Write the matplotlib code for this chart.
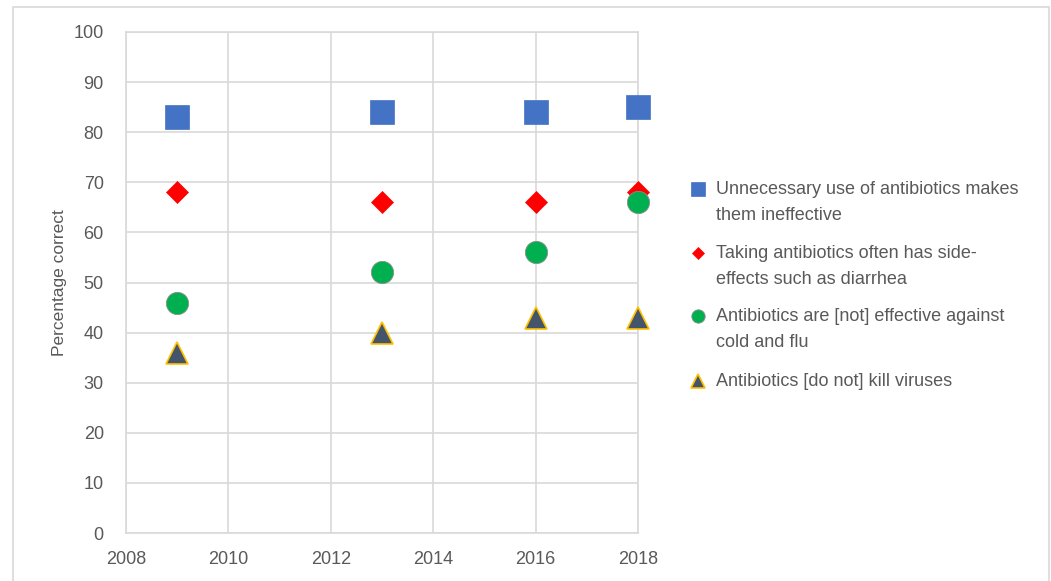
import matplotlib.pyplot as plt
from matplotlib.lines import Line2D
from matplotlib.patches import Rectangle

years = [2009, 2013, 2016, 2018]
unnecessary_use = [83, 84, 84, 85]
side_effects = [68, 66, 66, 68]
cold_and_flu = [46, 52, 56, 66]
kill_viruses = [36, 40, 43, 43]

labels = [
    'Unnecessary use of antibiotics makes\nthem ineffective',
    'Taking antibiotics often has side-\neffects such as diarrhea',
    'Antibiotics are [not] effective against\ncold and flu',
    'Antibiotics [do not] kill viruses',
]

plt.rcParams['font.family'] = ['Liberation Sans', 'DejaVu Sans']
grey_text = '#595959'
grid_col = '#D9D9D9'

fig = plt.figure(figsize=(10.51, 5.81), dpi=100)
ax = fig.add_axes([126 / 1051, 1 - 533 / 581, 512 / 1051, 501 / 581])

styles = [
    dict(marker='s', ms=17, mfc='#4472C4', mec='#4472C4', mew=0.5),
    dict(marker='D', ms=11, mfc='#FF0000', mec='#FF0000', mew=0.5),
    dict(marker='o', ms=16, mfc='#00B050', mec='#8c8c8c', mew=0.6),
    dict(marker='^', ms=16, mfc='#44546A', mec='#FFC000', mew=1.2),
]
series = [unnecessary_use, side_effects, cold_and_flu, kill_viruses]

for vals, st in zip(series, styles):
    ax.plot(years, vals, ls='none', clip_on=False, zorder=3, **st)

ax.set_xlim(2008, 2018)
ax.set_ylim(0, 100)
ax.set_xticks(range(2008, 2019, 2))
ax.set_yticks(range(0, 101, 10))
ax.grid(True, color=grid_col, lw=1.2)
ax.set_axisbelow(True)
for s in ax.spines.values():
    s.set_color(grid_col)
    s.set_linewidth(1.2)
ax.tick_params(length=0, labelsize=13, colors=grey_text)
ax.tick_params(axis='x', pad=13)
ax.tick_params(axis='y', pad=16)
ax.set_ylabel('Percentage correct', fontsize=12.5, color=grey_text, labelpad=5)

# legend drawn by hand so markers sit next to the first line of each label
legend_y = [189, 253, 316, 381]
for y, lab, st in zip(legend_y, labels, styles):
    small = dict(st)
    small['ms'] = st['ms'] * 0.6
    fig.add_artist(Line2D([698 / 1051], [1 - y / 581], transform=fig.transFigure,
                          ls='none', **small))
    fig.text(716 / 1051, 1 - (y - 8) / 581, lab, ha='left', va='top',
             fontsize=13, color=grey_text, linespacing=1.7)

# chart frame
fig.add_artist(Rectangle((13 / 1051, -0.01), 1036 / 1051, 1 - 7 / 581 + 0.01,
                         transform=fig.transFigure, fill=False,
                         ec=grid_col, lw=1.2))

fig.savefig('out.png', dpi=100, facecolor='white')
